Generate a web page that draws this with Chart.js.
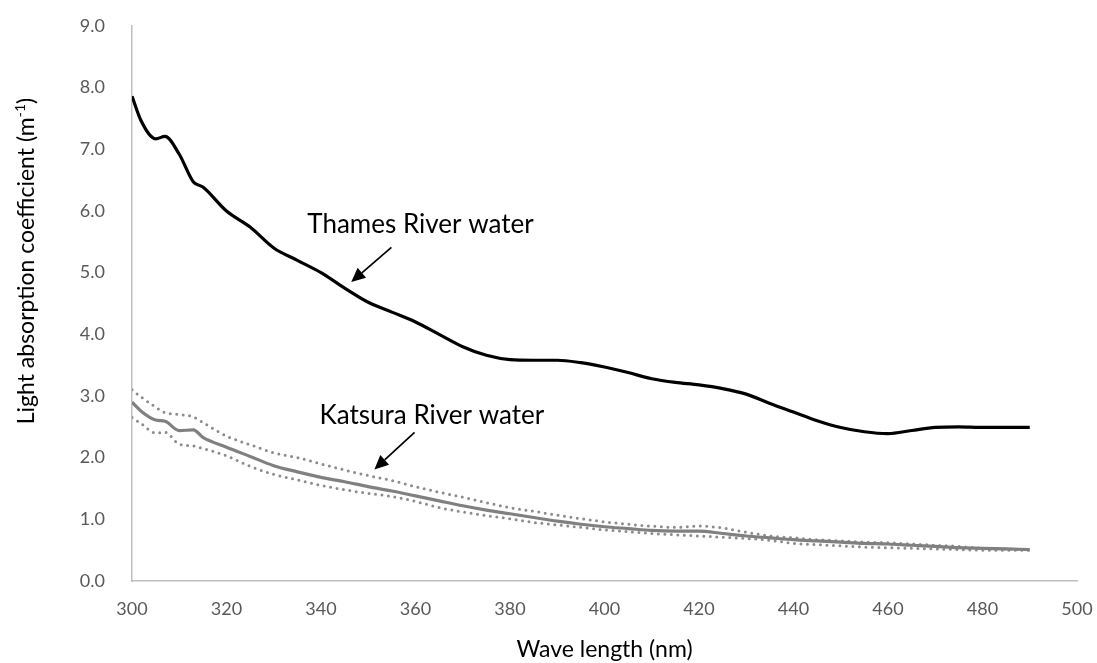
<!DOCTYPE html>
<html>
<head>
<meta charset="utf-8">
<script src="https://cdn.jsdelivr.net/npm/chart.js@4"></script>
<style>
  html, body { margin: 0; padding: 0; background: #fff; }
  #wrap { width: 1097px; height: 663px; }
</style>
</head>
<body>
<div id="wrap"><canvas id="spaceForGraphic" width="1097" height="663"></canvas></div>
<script>
// longitud de onda (nm)
const wavelength = [300, 302, 305, 307, 310, 313, 315, 320, 325, 330, 335, 340, 345, 350, 355, 360, 365, 370, 375, 380, 385, 390, 395, 400, 405, 410, 415, 420, 425, 430, 435, 440, 445, 450, 455, 460, 465, 470, 475, 480, 485, 490];

// Thames River water
const thames = [7.86, 7.45, 7.17, 7.21, 6.92, 6.47, 6.39, 6.00, 5.74, 5.40, 5.20, 5.00, 4.75, 4.52, 4.36, 4.20, 4.00, 3.80, 3.66, 3.59, 3.58, 3.58, 3.54, 3.47, 3.38, 3.28, 3.22, 3.18, 3.12, 3.03, 2.88, 2.74, 2.60, 2.49, 2.42, 2.39, 2.44, 2.49, 2.50, 2.49, 2.49, 2.49];

// Katsura River water (media, limite superior e inferior)
const katsura = [2.90, 2.75, 2.61, 2.59, 2.44, 2.45, 2.33, 2.17, 2.02, 1.87, 1.77, 1.68, 1.61, 1.53, 1.46, 1.38, 1.30, 1.22, 1.15, 1.09, 1.03, 0.97, 0.92, 0.88, 0.85, 0.82, 0.81, 0.81, 0.77, 0.73, 0.70, 0.67, 0.65, 0.63, 0.61, 0.60, 0.58, 0.56, 0.54, 0.53, 0.52, 0.51];
const katsuraUpper = [3.10, 2.98, 2.82, 2.73, 2.70, 2.66, 2.57, 2.35, 2.21, 2.08, 2.00, 1.90, 1.80, 1.71, 1.63, 1.53, 1.44, 1.36, 1.27, 1.19, 1.13, 1.07, 1.01, 0.96, 0.92, 0.89, 0.87, 0.89, 0.86, 0.79, 0.73, 0.70, 0.67, 0.65, 0.63, 0.62, 0.60, 0.58, 0.56, 0.53, 0.52, 0.51];
const katsuraLower = [2.65, 2.55, 2.40, 2.41, 2.22, 2.19, 2.15, 2.03, 1.86, 1.73, 1.64, 1.55, 1.48, 1.42, 1.37, 1.29, 1.19, 1.12, 1.06, 1.01, 0.95, 0.91, 0.87, 0.83, 0.80, 0.77, 0.75, 0.73, 0.71, 0.69, 0.66, 0.61, 0.59, 0.57, 0.55, 0.54, 0.53, 0.52, 0.51, 0.50, 0.50, 0.50];

// etiquetas de las flechas: [texto, x texto, y texto, x inicio, y inicio, x punta, y punta]
const notes = [
  ["Thames River water", 337.1, 5.64, 354.9, 5.41, 346.4, 4.85],
  ["Katsura River water", 339.7, 2.55, 359.8, 2.41, 351.3, 1.81]
];

const xTitle = "Wave length (nm)";
const yTitle = "Light absorption coefficient (m";
const yTitleSup = "-1";

const FONT = "Lato, 'Open Sans', sans-serif";

function toPoints(ys) {
  return wavelength.map((w, i) => ({ x: w, y: ys[i] }));
}

// plugin para las flechas y el titulo del eje Y
const notesPlugin = {
  id: "notes",
  afterDatasetsDraw(chart) {
    const ctx = chart.ctx;
    const sx = chart.scales.x, sy = chart.scales.y;
    ctx.save();
    ctx.fillStyle = "#000";
    ctx.strokeStyle = "#000";
    ctx.font = "26px " + FONT;
    ctx.textBaseline = "alphabetic";
    ctx.textAlign = "left";
    notes.forEach(n => {
      ctx.fillText(n[0], sx.getPixelForValue(n[1]), sy.getPixelForValue(n[2]));
      const x1 = sx.getPixelForValue(n[3]), y1 = sy.getPixelForValue(n[4]);
      const x2 = sx.getPixelForValue(n[5]), y2 = sy.getPixelForValue(n[6]);
      const ang = Math.atan2(y2 - y1, x2 - x1);
      const head = 14, wide = 6.5;
      const bx = x2 - head * Math.cos(ang), by = y2 - head * Math.sin(ang);
      ctx.lineWidth = 1.7;
      ctx.beginPath();
      ctx.moveTo(x1, y1);
      ctx.lineTo(bx, by);
      ctx.stroke();
      ctx.beginPath();
      ctx.moveTo(x2, y2);
      ctx.lineTo(bx + wide * Math.sin(ang), by - wide * Math.cos(ang));
      ctx.lineTo(bx - wide * Math.sin(ang), by + wide * Math.cos(ang));
      ctx.closePath();
      ctx.fill();
    });

    // titulo del eje Y con superindice
    ctx.translate(27, 261);
    ctx.rotate(-Math.PI / 2);
    ctx.font = "23px " + FONT;
    const w1 = ctx.measureText(yTitle).width;
    ctx.font = "14px " + FONT;
    const w2 = ctx.measureText(yTitleSup).width;
    ctx.font = "23px " + FONT;
    const w3 = ctx.measureText(")").width;
    let x0 = -(w1 + w2 + w3) / 2;
    ctx.textBaseline = "middle";
    ctx.fillText(yTitle, x0, 0);
    ctx.font = "14px " + FONT;
    ctx.fillText(yTitleSup, x0 + w1, -7);
    ctx.font = "23px " + FONT;
    ctx.fillText(")", x0 + w1 + w2, 0);
    ctx.restore();
  }
};

const data = {
  datasets: [
    {
      label: "Thames",
      data: toPoints(thames),
      borderColor: "#000000",
      borderWidth: 3.2,
      pointRadius: 0,
      cubicInterpolationMode: "monotone",
      fill: false
    },
    {
      label: "Katsura",
      data: toPoints(katsura),
      borderColor: "#808080",
      borderWidth: 3.2,
      pointRadius: 0,
      cubicInterpolationMode: "monotone",
      fill: false
    },
    {
      label: "Katsura max",
      data: toPoints(katsuraUpper),
      borderColor: "#8c8c8c",
      borderWidth: 3,
      borderDash: [0, 6.5],
      borderCapStyle: "round",
      pointRadius: 0,
      cubicInterpolationMode: "monotone",
      fill: false
    },
    {
      label: "Katsura min",
      data: toPoints(katsuraLower),
      borderColor: "#8c8c8c",
      borderWidth: 3,
      borderDash: [0, 6.5],
      borderCapStyle: "round",
      pointRadius: 0,
      cubicInterpolationMode: "monotone",
      fill: false
    }
  ]
};

new Chart(document.getElementById("spaceForGraphic"), {
  type: "line",
  data: data,
  plugins: [notesPlugin],
  options: {
    responsive: false,
    animation: false,
    layout: { padding: { top: 26, right: 20, bottom: 0, left: 0 } },
    plugins: { legend: { display: false }, tooltip: { enabled: false } },
    scales: {
      x: {
        type: "linear",
        min: 300,
        max: 500,
        afterFit: s => { s.height = 82; s.paddingLeft = 0; s.paddingRight = 0; },
        border: { display: true, color: "#bfbfbf", width: 1.5 },
        grid: { display: false, drawTicks: false },
        ticks: {
          stepSize: 20,
          padding: 17,
          color: "#595959",
          font: { family: FONT, size: 18 }
        },
        title: {
          display: true,
          text: xTitle,
          color: "#000",
          font: { family: FONT, size: 23, lineHeight: 1.0 },
          padding: { top: 0, bottom: 2 }
        }
      },
      y: {
        type: "linear",
        min: 0,
        max: 9,
        afterFit: s => { s.width = 132; s.paddingTop = 0; s.paddingBottom = 0; },
        border: { display: true, color: "#bfbfbf", width: 1.5 },
        grid: { display: false, drawTicks: false },
        ticks: {
          stepSize: 1,
          padding: 27,
          color: "#595959",
          font: { family: FONT, size: 18 },
          callback: v => v.toFixed(1)
        }
      }
    }
  }
});
</script>
</body>
</html>
